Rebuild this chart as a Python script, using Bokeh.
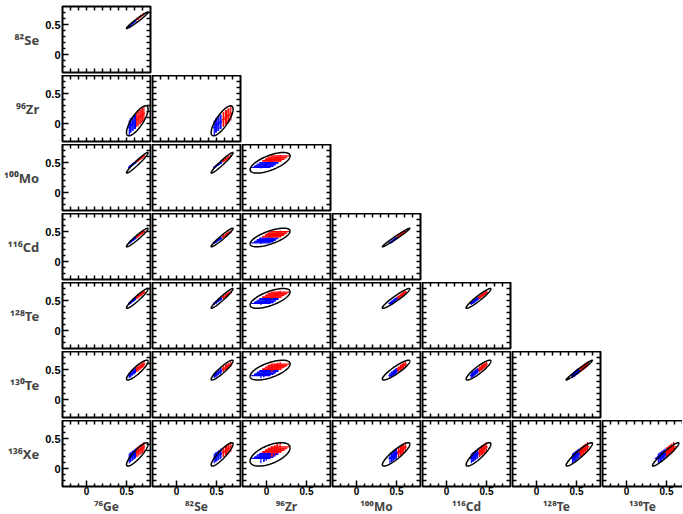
import numpy as np
from bokeh.plotting import figure
from bokeh.layouts import gridplot
from bokeh.models import FixedTicker, LinearAxis, Range1d
from bokeh.embed import file_html
from bokeh.resources import INLINE

# ---------------- data ----------------
isotopes = ["⁷⁶Ge", "⁸²Se", "⁹⁶Zr", "¹⁰⁰Mo", "¹¹⁶Cd", "¹²⁸Te", "¹³⁰Te", "¹³⁶Xe"]

# confidence-ellipse centres and half extents per isotope
ell_mean = [0.635, 0.57, 0.045, 0.495, 0.40, 0.535, 0.49, 0.235]
ell_half = [0.135, 0.137, 0.25, 0.172, 0.155, 0.165, 0.165, 0.195]

# correlation coefficient for each panel: rho_rows[row][col]
rho_rows = [
    [0.975],
    [0.78, 0.78],
    [0.965, 0.965, 0.66],
    [0.96, 0.965, 0.68, 0.985],
    [0.95, 0.965, 0.66, 0.95, 0.95],
    [0.88, 0.92, 0.62, 0.90, 0.90, 0.985],
    [0.87, 0.89, 0.56, 0.88, 0.88, 0.93, 0.95],
]

# individual calculations (blue = first group, red = second group)
sample_group = ["blue"] * 7 + ["red"] * 7
val_76Ge = [0.535, 0.548, 0.556, 0.572, 0.583, 0.598, 0.612, 0.628, 0.643, 0.655, 0.671, 0.684, 0.702, 0.718]
val_82Se = [0.472, 0.490, 0.498, 0.517, 0.528, 0.547, 0.556, 0.583, 0.590, 0.613, 0.624, 0.643, 0.655, 0.679]
val_96Zr = [-0.070, -0.035, -0.030, -0.005, 0.000, 0.028, 0.030, 0.065, 0.070, 0.100, 0.105, 0.130, 0.140, 0.170]
val_100Mo = [0.418, 0.437, 0.446, 0.462, 0.473, 0.490, 0.498, 0.523, 0.530, 0.550, 0.560, 0.578, 0.588, 0.610]
val_116Cd = [0.310, 0.327, 0.336, 0.352, 0.363, 0.379, 0.390, 0.412, 0.421, 0.437, 0.452, 0.466, 0.479, 0.497]
val_128Te = [0.450, 0.466, 0.477, 0.490, 0.504, 0.517, 0.531, 0.551, 0.560, 0.579, 0.591, 0.606, 0.619, 0.638]
val_130Te = [0.398, 0.417, 0.426, 0.441, 0.456, 0.467, 0.481, 0.502, 0.511, 0.529, 0.541, 0.557, 0.568, 0.589]
val_136Xe = [0.168, 0.187, 0.196, 0.210, 0.226, 0.236, 0.252, 0.272, 0.280, 0.300, 0.310, 0.327, 0.338, 0.360]
values = [val_76Ge, val_82Se, val_96Zr, val_100Mo, val_116Cd, val_128Te, val_130Te, val_136Xe]

# error-bar half lengths per isotope
err_iso = [0.015, 0.015, 0.12, 0.02, 0.02, 0.025, 0.045, 0.08]

major_ticks = [0, 0.5]
minor_ticks = [-0.2, -0.1, 0.1, 0.2, 0.3, 0.4, 0.6, 0.7]
tick_labels = {0: "0", 0.5: "0.5"}

# ---------------- layout ----------------
FRAME_W, FRAME_H = 88, 66
LAST_W = 80
X0, X1 = -0.3, 0.8
FONT = "Liberation Sans"
LABEL_FONT = "Noto Sans"
COLORS = {"blue": "#0000ff", "red": "#ff0000"}


def style_axis(ax, show_labels):
    ax.axis_line_color = None
    ax.major_tick_out = 0
    ax.minor_tick_out = 0
    ax.major_tick_line_width = 1.5
    ax.minor_tick_line_width = 1.5
    ax.major_tick_line_color = "black"
    ax.minor_tick_line_color = "black"
    if show_labels:
        ax.ticker = FixedTicker(ticks=major_ticks, minor_ticks=minor_ticks)
        ax.major_tick_in = 6
        ax.minor_tick_in = 3
        ax.major_label_overrides = tick_labels
        ax.major_label_text_font = FONT
        ax.major_label_text_font_style = "bold"
        ax.major_label_text_font_size = "11px"
        ax.major_label_text_color = "black"
        ax.major_label_standoff = 2
    else:
        # unlabeled side: every tick drawn as a tick mark without text
        ax.ticker = FixedTicker(ticks=[], minor_ticks=sorted(major_ticks + minor_ticks))
        ax.major_tick_in = 0
        ax.minor_tick_in = 4
        ax.major_label_standoff = 0


grid = []
for r in range(7):
    yi = r + 1
    rowfigs = []
    for c in range(7):
        if c > r:
            rowfigs.append(None)
            continue
        last = (c == 6)
        fw = LAST_W if last else FRAME_W
        xmax = X0 + (X1 - X0) * fw / FRAME_W
        p = figure(frame_width=fw, frame_height=FRAME_H,
                   x_range=Range1d(X0, xmax), y_range=Range1d(-0.3, 0.8),
                   output_backend="svg", toolbar_location=None, title=None,
                   x_axis_location=None, y_axis_location=None,
                   min_border_left=62 if c == 0 else 0,
                   min_border_right=0 if last else 2,
                   min_border_top=6 if r == 0 else 0,
                   min_border_bottom=28 if r == 6 else 3)
        p.grid.visible = False
        p.background_fill_color = "white"
        p.border_fill_color = "white"
        if last:
            p.outline_line_color = None
        else:
            p.outline_line_color = "black"
            p.outline_line_width = 2

        bottom = LinearAxis()
        style_axis(bottom, r == 6)
        if r == 6:
            bottom.major_label_text_font_size = "10px"
            bottom.major_label_standoff = 0
            bottom.axis_label = isotopes[c]
            bottom.axis_label_text_font = LABEL_FONT
            bottom.axis_label_text_font_style = "bold"
            bottom.axis_label_text_font_size = "12px"
            bottom.axis_label_standoff = 0
        left = LinearAxis()
        style_axis(left, c == 0)
        if c == 0:
            left.axis_label = isotopes[yi]
            left.axis_label_orientation = "horizontal"
            left.axis_label_text_font = LABEL_FONT
            left.axis_label_text_font_style = "bold"
            left.axis_label_text_font_size = "13px"
            left.axis_label_standoff = 3
        top = LinearAxis()
        style_axis(top, False)
        p.add_layout(bottom, "below")
        p.add_layout(left, "left")
        p.add_layout(top, "above")
        if last:
            for ax in (bottom, left, top):
                ax.axis_line_color = "black"
                ax.axis_line_width = 2
        else:
            right = LinearAxis()
            style_axis(right, False)
            p.add_layout(right, "right")

        # error crosses
        xs, ys = values[c], values[yi]
        ex, ey = err_iso[c], err_iso[yi]
        for k in range(len(xs)):
            col = COLORS[sample_group[k]]
            p.segment(x0=[xs[k] - ex, xs[k]], y0=[ys[k], ys[k] - ey],
                      x1=[xs[k] + ex, xs[k]], y1=[ys[k], ys[k] + ey],
                      line_color=col, line_width=1.2)

        # correlation ellipse
        t = np.linspace(0, 2 * np.pi, 121)
        rho = rho_rows[r][c]
        hx, hy = ell_half[c], ell_half[yi]
        ex_pts = ell_mean[c] + hx * np.cos(t)
        ey_pts = ell_mean[yi] + hy * (rho * np.cos(t) + np.sqrt(1 - rho ** 2) * np.sin(t))
        p.line(ex_pts, ey_pts, line_color="black", line_width=1.5)

        rowfigs.append(p)
    grid.append(rowfigs)

layout = gridplot(grid, toolbar_location=None)

open("out.html", "w").write(file_html(layout, INLINE))
